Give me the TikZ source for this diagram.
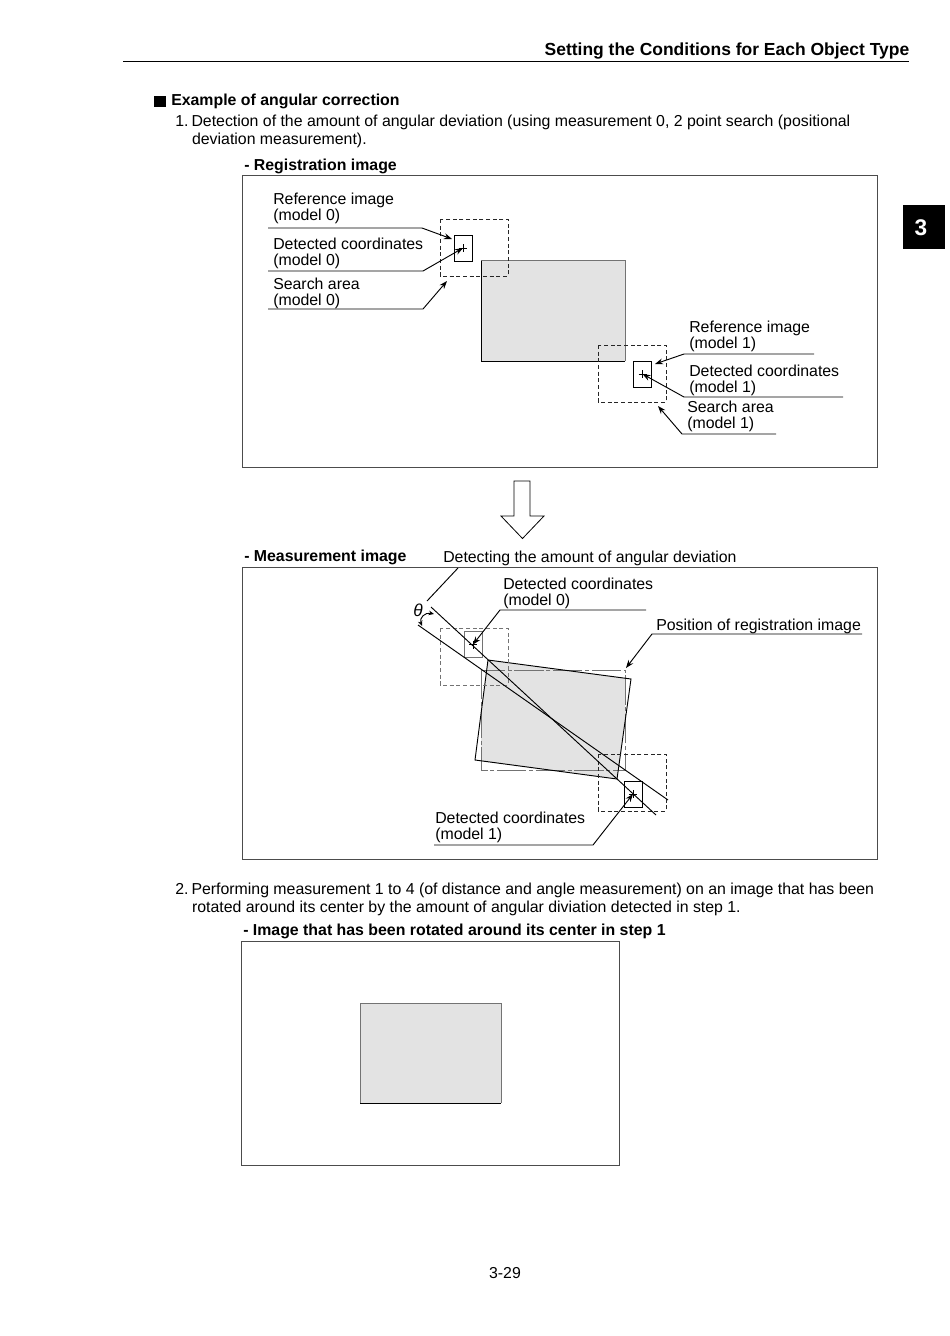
\documentclass[tikz,border=0pt]{standalone}
\usepackage{xcolor}
\usepackage{fontspec}
\setmainfont{Liberation Sans}
\usetikzlibrary{arrows.meta, calc}
\definecolor{panelgrey}{gray}{0.89}
\definecolor{framegrey}{gray}{0.3}
\tikzset{
  plaintext/.style={inner sep=0pt, anchor=base west, font=\fontsize{11.88}{12}\selectfont},
  headtext/.style={inner sep=0pt, anchor=base west, font=\fontsize{11.9}{13.5}\selectfont\bfseries},
  bodytext/.style={inner sep=0pt, anchor=north west, align=left, font=\fontsize{11.9}{13.5}\selectfont},
  calltext/.style={inner sep=0pt, anchor=north west, align=left, font=\fontsize{11.9}{12}\selectfont},
  frame/.style={draw=framegrey, line width=0.6pt},
  searchbox/.style={draw=black!85, line width=0.65pt, dash pattern=on 3pt off 2pt},
  modelbox/.style={draw, line width=0.7pt, inner sep=0pt, minimum width=13.5pt, minimum height=19.5pt},
  leader/.style={line width=0.7pt},
}
\begin{document}
\begin{tikzpicture}[x=0.75pt, y=-0.75pt, >={Stealth[length=6pt, width=4.4pt]}, every node/.style={font=\fontsize{12}{12}\selectfont}]
  \useasboundingbox (0,0) rectangle (950,1336);
  % page head
  \node[headtext, anchor=base east, font=\fontsize{13.1}{13.5}\selectfont\bfseries] (pagehead) at (909.5,55.5) {Setting the Conditions for Each Object Type};
  \draw[line width=0.6pt] (123,61) -- (909,61);
  \fill (903,205) rectangle (945,249);
  \node[font=\fontsize{17}{17}\selectfont\bfseries, text=white, inner sep=0pt] (chaptermark) at (921,228) {3};
  \fill (154,96) rectangle (165.5,107);
  \node[headtext] (sectionhead) at (171,105.5) {Example of angular correction};
  \node[bodytext] (stepone) at (175,115) {1.\hspace{0.19em}Detection of the amount of angular deviation (using measurement 0, 2 point search (positional\\\hspace*{1.06em}deviation measurement).};

  % registration image
  \node[headtext] (reghead) at (244,170) {- Registration image};
  \draw[frame] (242.5,175.5) rectangle (877,467);
  \fill[panelgrey] (481,260.5) rectangle (625,361);
  \draw[black!55, line width=0.5pt] (481,260.5) -| (625,361);
  \draw[line width=0.6pt] (481,260.5) |- (625,361);
  \draw[searchbox] (440,219) rectangle (508,276);
  \draw[searchbox] (598,345) rectangle (666,402);
  \node[modelbox] (regbox0) at (463,248) {};
  \node[modelbox] (regbox1) at (642.5,374) {};
  \node[calltext] (regref0) at (273,193) {Reference image\\(model 0)};
  \node[calltext] (regdet0) at (273,237.5) {Detected coordinates\\(model 0)};
  \node[calltext] (regarea0) at (273,278) {Search area\\(model 0)};
  \node[calltext] (regref1) at (689,321) {Reference image\\(model 1)};
  \node[calltext] (regdet1) at (689,364.5) {Detected coordinates\\(model 1)};
  \node[calltext] (regarea1) at (687,401) {Search area\\(model 1)};
  \coordinate (tipref0) at (452,239);
  \coordinate (tiparea0) at (447,281);
  \coordinate (tipref1) at (655,364);
  \coordinate (tiparea1) at (658,406);
  \draw[leader, ->] (268,228) -- (422,228) -- (tipref0);
  \draw[leader, ->] (268,271) -- (423,271) -- (regbox0.center);
  \draw[leader, ->] (268,309) -- (423,309) -- (tiparea0);
  \draw[leader, ->] (814,354) -- (684,354) -- (tipref1);
  \draw[leader, ->] (843,397) -- (684,397) -- (regbox1.center);
  \draw[leader, ->] (776,434) -- (682,434) -- (tiparea1);

  % hollow arrow between the frames
  \draw[line width=0.6pt] (514,481) -- (530,481) -- (530,516) -- (544,516) -- (522.5,538.5) -- (501,516) -- (514,516) -- cycle;

  % measurement image
  \node[headtext] (meashead) at (244,561) {- Measurement image};
  \node[plaintext] (deviationtext) at (443,562) {Detecting the amount of angular deviation};
  \draw[frame] (242.5,567.5) rectangle (877,859);
  \fill[panelgrey] (488,660) -- (625,678) -- (625,722) -- (617,779) -- (481,761) -- (481,714) -- cycle;
  \draw[black!55, line width=0.7pt, dash pattern=on 22pt off 2pt on 3pt off 2pt] (481,670) rectangle (625,770);
  \draw[leader] (488,660) -- (631,679) -- (617,779) -- (475,760) -- cycle;
  \draw[searchbox, draw=black!55] (440,628) rectangle (508,685);
  \draw[searchbox] (598,754) rectangle (666,811);
  \node[modelbox, draw=black!55] (measbox0) at (473,644.5) {};
  \node[modelbox] (measbox1) at (633,794) {};
  \draw[leader] (431,607) -- (656,815);
  \draw[leader] (418,625) -- (668,800);
  \coordinate (thetaline) at (427,601);
  \draw[leader] (458,568) -- (thetaline);
  \node[font=\fontsize{13}{13}\selectfont\itshape, inner sep=0pt] (thetamark) at (418,610) {θ};
  \draw[leader, {Stealth[length=4pt, width=3.4pt]}-{Stealth[length=4pt, width=3.4pt]}] (422,626) .. controls (419,618) and (425,612) .. (434,614);
  \node[calltext] (measdet0) at (503,578) {Detected coordinates\\(model 0)};
  \node[calltext] (measpos) at (656,619) {Position of registration image};
  \node[calltext] (measdet1) at (435,812) {Detected coordinates\\(model 1)};
  \coordinate (tippos) at (626,668);
  \draw[leader, ->] (646,610) -- (500,610) -- (measbox0.center);
  \draw[leader, ->] (862,634) -- (652,634) -- (tippos);
  \draw[leader, ->] (434,845) -- (593,845) -- (measbox1.center);

  % plus marks on the detected coordinates
  \foreach \markbox in {regbox0, regbox1, measbox0, measbox1} {
    \draw[line width=0.5pt] ($(\markbox.center)+(-4,0)$) -- ($(\markbox.center)+(4,0)$);
    \draw[line width=0.5pt] ($(\markbox.center)+(0,-4)$) -- ($(\markbox.center)+(0,4)$);
  }

  % rotated result
  \node[bodytext] (steptwo) at (175,883) {2.\hspace{0.19em}Performing measurement 1 to 4 (of distance and angle measurement) on an image that has been\\\hspace*{1.06em}rotated around its center by the amount of angular diviation detected in step 1.};
  \node[headtext] (rothead) at (243,935) {- Image that has been rotated around its center in step 1};
  \draw[frame] (241.5,941) rectangle (619,1165);
  \fill[panelgrey] (360,1003) rectangle (501,1103);
  \draw[black!55, line width=0.5pt] (360,1103) |- (501,1003) -- (501,1103);
  \draw[line width=0.6pt] (360,1103) -- (501,1103);

  \node[plaintext, anchor=base] (pagenumber) at (505,1278) {3-29};
\end{tikzpicture}
\end{document}
